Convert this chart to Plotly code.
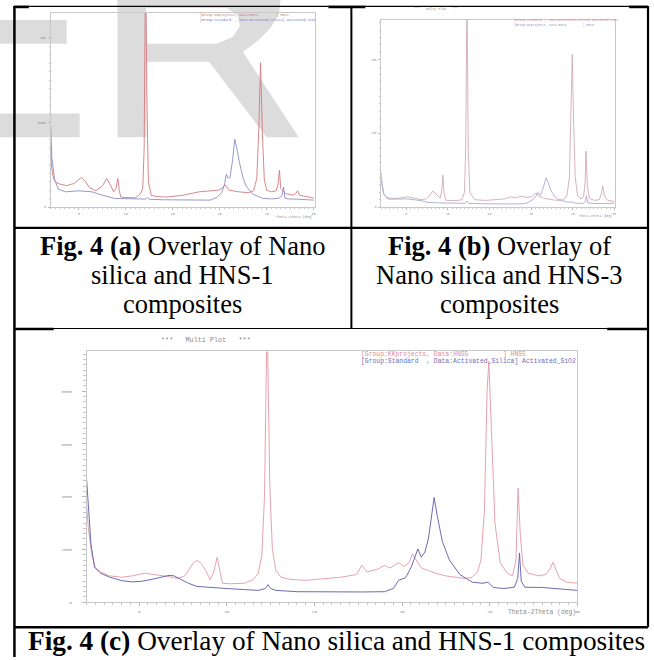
import plotly.graph_objects as go

W, H = 654, 660

# ---------------- data (2theta in deg, intensity in counts) ----------------
# Fig. 4(a): HNS-1 (red) and Activated SiO2 (blue)
deg_a_hns = [2.0, 2.05, 2.2, 2.4, 2.6, 3.0, 3.7, 4.5, 5.25, 5.7, 6.1, 6.8, 7.5, 7.97, 8.4, 8.7, 8.95,
             9.14, 9.3, 9.45, 10.0, 11.0, 11.5, 11.8, 11.95, 12.1, 12.25, 12.4, 12.7, 13.3, 14.3, 16.0,
             17.8, 19.2, 19.9, 20.3, 20.6, 21.0, 22.0, 23.0, 23.6, 23.95, 24.15, 24.35, 24.55, 24.75,
             25.0, 25.5, 26.0, 26.2, 26.36, 26.5, 27.0, 27.8, 28.1, 28.3, 28.5, 29.5, 30.0]
int_a_hns = [3800, 2600, 1900, 1550, 1450, 1350, 1270, 1400, 1750, 1500, 1160, 960, 1250, 1690, 1250, 900, 1100,
             1690, 1000, 590, 560, 550, 750, 1080, 3500, 15000, 6000, 1500, 690, 620, 590, 690,
             900, 960, 1000, 1160, 1300, 1000, 900, 850, 950, 1700, 4500, 8530, 4200, 1600,
             1000, 900, 960, 1300, 2180, 1100, 800, 700, 800, 960, 700, 590, 530]
deg_a_sio2 = [2.0, 2.1, 2.4, 2.8, 3.6, 5.0, 6.4, 7.1, 8.8, 10.5, 12.1, 12.3, 12.5, 14.0, 15.8, 17.5, 19.0,
              19.7, 20.2, 20.5, 20.7, 20.9, 21.1, 21.35, 21.6, 21.85, 22.1, 22.5, 22.8, 23.5, 24.6, 25.5,
              26.3, 26.65, 26.8, 26.95, 27.3, 28.5, 30.0]
int_a_sio2 = [4800, 3000, 1650, 1060, 900, 960, 900, 765, 510, 480, 470, 560, 460, 430, 410, 410, 410,
              570, 860, 1300, 1940, 1700, 1750, 2700, 4000, 3400, 2630, 1700, 1250, 765, 510, 480,
              520, 700, 1180, 520, 480, 460, 410]

# Fig. 4(b): Activated SiO2 (red) and HNS-3 (blue)
deg_b_red = [2.0, 2.1, 2.3, 2.6, 3.0, 3.6, 4.4, 5.2, 6.0, 6.8, 7.4, 7.8, 8.05, 8.2, 8.4, 8.6, 8.8, 9.1,
             9.3, 9.4, 9.55, 9.8, 11.0, 11.7, 12.0, 12.15, 12.3, 12.45, 12.65, 13.2, 14.5, 15.6, 16.8,
             17.6, 18.0, 18.8, 19.6, 20.2, 20.6, 20.9, 21.5, 22.5, 23.2, 23.9, 24.3, 24.6, 24.8, 24.95,
             25.1, 25.3, 25.6, 26.0, 26.3, 26.5, 26.6, 26.75, 27.0, 27.6, 28.2, 28.45, 28.6, 28.8, 29.2, 30.0]
int_b_red = [3800, 2800, 1800, 1350, 1200, 1150, 1250, 1400, 1200, 1000, 1100, 1500, 2000, 2200, 1900, 1800, 1500, 1250,
             2500, 4320, 1800, 900, 860, 1000, 2000, 8000, 30000, 8000, 2000, 1000, 900, 950, 1100,
             1400, 1250, 1450, 1300, 1500, 1900, 1500, 1200, 1000, 900, 1000, 1500, 4000, 14000, 20700,
             12000, 4000, 1500, 1100, 1400, 3500, 7600, 3000, 1200, 900, 1000, 1900, 2880, 1500, 900, 750]
deg_b_blue = [2.0, 2.1, 2.3, 2.8, 3.6, 5.2, 6.8, 7.6, 9.0, 11.0, 12.1, 12.3, 12.5, 14.0, 15.6, 17.5, 19.0,
              19.6, 20.2, 20.6, 20.85, 21.1, 21.4, 21.65, 21.8, 22.0, 22.4, 22.8, 23.2, 24.4, 24.9, 25.4,
              26.3, 26.55, 26.65, 26.8, 27.2, 28.5, 30.0]
int_b_blue = [4690, 3200, 1800, 1080, 1080, 1100, 860, 635, 560, 500, 500, 800, 500, 450, 405, 420, 450,
              600, 1000, 1500, 2000, 1600, 2400, 3600, 4000, 3500, 2200, 1500, 1080, 635, 700, 500,
              520, 800, 1530, 600, 500, 480, 500]

# Fig. 4(c): HNS5 (red) and Activated SiO2 (blue)
deg_c_hns = [2.0, 2.1, 2.3, 2.5, 2.8, 3.3, 4.0, 4.6, 5.3, 6.0, 6.6, 7.2, 7.6, 7.9, 8.1, 8.3, 8.5, 8.8,
             9.05, 9.25, 9.45, 9.6, 9.75, 10.2, 11.0, 11.5, 11.8, 12.0, 12.15, 12.3, 12.45, 12.6, 12.8,
             13.1, 13.6, 14.5, 15.5, 16.5, 17.4, 17.7, 18.0, 18.6, 19.0, 19.3, 19.8, 20.1, 20.4, 20.6,
             20.8, 21.1, 21.5, 22.0, 22.5, 23.0, 23.6, 24.0, 24.3, 24.5, 24.7, 24.85, 24.95, 25.1, 25.3,
             25.6, 26.0, 26.3, 26.5, 26.62, 26.75, 26.9, 27.2, 27.8, 28.2, 28.45, 28.62, 28.8, 29.0, 29.4, 30.0]
int_c_hns = [3700, 2800, 1800, 1300, 1150, 1000, 950, 1000, 1100, 1050, 980, 900, 1000, 1300, 1500, 1580, 1500, 1200,
             850, 1150, 1700, 1200, 720, 700, 720, 850, 1100, 1800, 4000, 11000, 4500, 2000, 1200,
             950, 870, 830, 880, 950, 1050, 1400, 1150, 1250, 1400, 1300, 1500, 1350, 1500, 1830,
             1600, 1300, 1200, 1080, 1000, 950, 900, 950, 1150, 1600, 3500, 8000, 9130, 6500, 3000,
             1500, 1100, 1000, 1600, 4330, 2500, 1400, 1100, 1000, 1050, 1280, 1520, 1200, 900, 760, 720]
deg_c_sio2 = [2.0, 2.1, 2.25, 2.45, 2.8, 3.3, 4.0, 4.6, 5.2, 5.8, 6.3, 6.7, 7.0, 7.4, 7.8, 8.3, 9.0, 10.0,
              11.0, 11.8, 12.2, 12.35, 12.5, 12.8, 14.0, 15.8, 17.7, 19.0, 19.5, 19.8, 20.2, 20.5, 20.75,
              20.9, 21.1, 21.3, 21.5, 21.7, 21.83, 22.0, 22.3, 22.7, 23.3, 24.0, 24.6, 24.9, 25.2, 25.8,
              26.4, 26.6, 26.7, 26.8, 27.0, 28.0, 29.0, 30.0]
int_c_sio2 = [4660, 3500, 2200, 1330, 1100, 955, 820, 770, 800, 880, 960, 1020, 1000, 870, 720, 600, 560, 520,
              480, 450, 520, 670, 520, 450, 400, 390, 390, 400, 520, 830, 930, 1300, 1800,
              2020, 1710, 1900, 2400, 3300, 3970, 3300, 2300, 1600, 1050, 760, 720, 760, 560, 520,
              570, 900, 1870, 800, 570, 560, 500, 450]

x_ticks = [5, 10, 15, 20, 25, 30]
yticks_a = [0, 5000, 10000]
yticks_b = [0, 10000, 20000]
yticks_c = [0, 2000, 4000, 6000, 8000]

legend_hns1 = "[Group:KKprojects, Data:HNS1         ] HNS1"
legend_hns3 = "[Group:KKprojects, Data:HNS3         ] HNS3"
legend_hns5 = "[Group:KKprojects, Data:HNS5         ] HNS5"
legend_sio2 = "[Group:Standard  , Data:Activated_Silica] Activated_SiO2"
title_multi = "***   Multi Plot   ***"
x_title = "Theta-2Theta (deg)"

cap_a = ["<b>Fig. 4 (a)</b> Overlay of Nano", "silica and HNS-1", "composites"]
cap_b = ["<b>Fig. 4 (b)</b> Overlay of", "Nano silica and HNS-3", "composites"]
cap_c = "<b>Fig. 4 (c)</b> Overlay of Nano silica and HNS-1 composites"


# ---------------- helpers ----------------
def X(p):
    return p / W


def Y(p):
    return 1 - p / H


def nb(s):
    return s.replace(" ", "\u00a0")


MONO = "Liberation Mono, DejaVu Sans Mono, monospace"
SERIF = "Liberation Serif, Times New Roman, serif"

RED_A, BLUE_A = "#d27a80", "#8c8cc8"
RED_B, BLUE_B = "#d3aab4", "#a9a9d6"
RED_C, BLUE_C = "#e6a2ae", "#5a5aaa"

fig = go.Figure()
fig.add_trace(go.Scatter(x=deg_a_hns, y=int_a_hns, xaxis="x", yaxis="y", mode="lines",
                         line=dict(color=RED_A, width=0.9)))
fig.add_trace(go.Scatter(x=deg_a_sio2, y=int_a_sio2, xaxis="x", yaxis="y", mode="lines",
                         line=dict(color=BLUE_A, width=0.9)))
fig.add_trace(go.Scatter(x=deg_b_red, y=int_b_red, xaxis="x2", yaxis="y2", mode="lines",
                         line=dict(color=RED_B, width=0.9)))
fig.add_trace(go.Scatter(x=deg_b_blue, y=int_b_blue, xaxis="x2", yaxis="y2", mode="lines",
                         line=dict(color=BLUE_B, width=0.9)))
fig.add_trace(go.Scatter(x=deg_c_hns, y=int_c_hns, xaxis="x3", yaxis="y3", mode="lines",
                         line=dict(color=RED_C, width=1.0)))
fig.add_trace(go.Scatter(x=deg_c_sio2, y=int_c_sio2, xaxis="x3", yaxis="y3", mode="lines",
                         line=dict(color=BLUE_C, width=0.9)))


def axis(domain, rng, tickvals, fs, mdt, standoff, tl, anchor):
    return dict(domain=domain, range=rng, tickmode="array", tickvals=tickvals,
                showline=True, linecolor="#c9c9c9", linewidth=1, mirror=True,
                ticks="outside", ticklen=tl, tickcolor="#b8b8b8", tickwidth=1,
                showgrid=False, zeroline=False, anchor=anchor,
                tickfont=dict(family=MONO, size=fs, color="#8e8e8e"),
                minor=dict(ticks="outside", ticklen=max(1, tl * 0.6), tickcolor="#c4c4c4",
                           dtick=mdt, tick0=0, showgrid=False),
                ticklabelstandoff=standoff, fixedrange=True)


layout = dict(width=W, height=H, autosize=False, margin=dict(l=0, r=0, t=0, b=0),
              paper_bgcolor="white", plot_bgcolor="rgba(0,0,0,0)", showlegend=False)
layout["xaxis"] = axis([X(51), X(316)], [2, 30.1], x_ticks, 3.4, 0.5, 1, 2, "y")
layout["yaxis"] = axis([Y(208), Y(13)], [0, 11470], yticks_a, 3.4, 500, 1, 2, "x")
layout["xaxis2"] = axis([X(383), X(618)], [2, 30.1], x_ticks, 3.1, 0.5, 1, 2, "y2")
layout["yaxis2"] = axis([Y(208), Y(20)], [0, 25400], yticks_b, 3.1, 1000, 1, 2, "x2")
layout["xaxis3"] = axis([X(87), X(580)], [2, 30], x_ticks, 4.3, 0.5, 2, 3, "y3")
layout["yaxis3"] = axis([Y(605), Y(353)], [0, 9510], yticks_c, 4.3, 200, 9, 4, "x3")
fig.update_layout(**layout)

# ---------------- watermark (below) ----------------
GRAY = "#dcdcdc"
shapes = []


def rect(x0, y0, x1, y1, color, layer="below"):
    return dict(type="rect", xref="paper", yref="paper", x0=X(x0), x1=X(x1), y0=Y(y1), y1=Y(y0),
                fillcolor=color, line=dict(width=0), layer=layer)


def path(pts):
    return "M " + " L ".join(f"{X(a):.5f},{Y(b):.5f}" for a, b in pts) + " Z"


shapes.append(rect(0, 20, 67, 44, GRAY))
shapes.append(rect(0, 114, 80, 138, GRAY))
shapes.append(rect(118, 0, 147, 138, GRAY))
outer = [(147, 0), (282, 0), (280, 14), (272, 28), (259, 41), (244, 52), (300, 138), (268, 138),
         (210, 62), (147, 62)]
hole = [(147, 8), (147, 44), (218, 44), (234, 37), (241, 26), (239, 16), (228, 8)]
shapes.append(dict(type="path", xref="paper", yref="paper", path=path(outer) + " " + path(hole),
                   fillcolor=GRAY, line=dict(width=0), layer="below"))


# ---------------- table lines ----------------
def hline(y, x0, x1, w):
    return dict(type="line", xref="paper", yref="paper", x0=X(x0), x1=X(x1), y0=Y(y), y1=Y(y),
                line=dict(color="black", width=w), layer="above")


def vline(x, y0, y1, w):
    return dict(type="line", xref="paper", yref="paper", x0=X(x), x1=X(x), y0=Y(y0), y1=Y(y1),
                line=dict(color="black", width=w), layer="above")


shapes += [
    hline(6.5, 14, 651, 1.2), hline(7, 14, 29, 2.5), hline(7, 330, 367, 2.5), hline(7, 632, 651, 2.5),
    hline(229, 14, 651, 2.2),
    hline(330, 14, 651, 1.2), hline(330.5, 14, 54, 2.5), hline(330.5, 610, 651, 2.5),
    hline(630, 14, 651, 2.5),
    vline(14.5, 6, 660, 2.5), vline(353, 6, 330, 2), vline(651, 6, 630, 2.2),
]
fig.update_layout(shapes=shapes)

# ---------------- annotations ----------------
ann = []


def txt(s, x, y, size, color, family=MONO, xanchor="left"):
    ann.append(dict(text=s, x=X(x), y=Y(y), xref="paper", yref="paper", showarrow=False,
                    xanchor=xanchor, yanchor="middle", font=dict(family=family, size=size, color=color)))


# legends
txt(nb(legend_hns1), 199, 15, 3.45, "#c87070")
txt(nb(legend_sio2), 199, 20.5, 3.45, "#7474c4")
txt(nb(legend_sio2), 514, 20.5, 3.1, "#d08a96")
txt(nb(legend_hns3), 514, 25.5, 3.1, "#8a8acc")
txt(nb(legend_hns5), 361, 356.5, 6.4, "#e08a98")
txt(nb(legend_sio2), 361, 363, 6.4, "#6c6cb8")
# titles
txt(nb(title_multi), 439, 9, 3.4, "#8a8a8a", xanchor="center")
txt(nb(title_multi), 207, 342, 6.8, "#8a8a8a", xanchor="center")
# axis titles
txt(nb(x_title), 316, 218, 3.4, "#8e8e8e", xanchor="right")
txt(nb(x_title), 618, 217, 3.1, "#8e8e8e", xanchor="right")
txt(nb(x_title), 581, 615, 6.3, "#8e8e8e", xanchor="right")
# captions
for i, s in enumerate(cap_a):
    txt(s, 183.5, 247 + 29 * i, 26.5, "black", family=SERIF, xanchor="center")
for i, s in enumerate(cap_b):
    txt(s, 502, 247 + 29 * i, 26.5, "black", family=SERIF, xanchor="center")
txt(cap_c, 338, 644, 27.3, "black", family=SERIF, xanchor="center")

fig.update_layout(annotations=ann)
fig.write_html("out.html", config={"displayModeBar": False, "staticPlot": True},
               post_script="document.body.style.margin='0';document.body.style.padding='0';"
                           "document.documentElement.style.overflow='hidden';")
